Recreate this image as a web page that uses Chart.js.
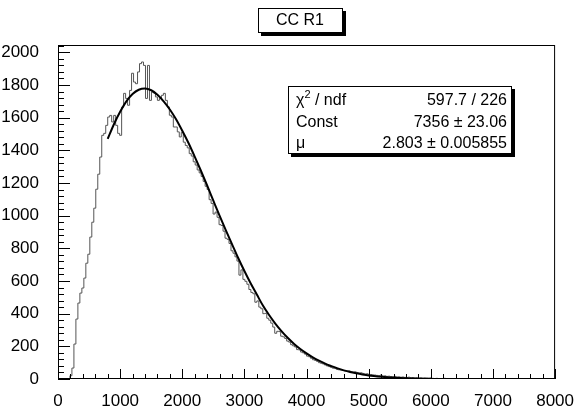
<!DOCTYPE html>
<html>
<head>
<meta charset="utf-8">
<script src="https://cdn.jsdelivr.net/npm/chart.js@4.4.1/dist/chart.umd.min.js"></script>
<style>
  html, body { margin: 0; padding: 0; background: #fff; }
  #wrap { width: 578px; height: 408px; }
</style>
</head>
<body>
<div id="wrap"><canvas id="grafico" width="578" height="408"></canvas></div>
<script>
// histogram: 250 bins of width 32 between 0 and 8000
const titulo = 'CC R1';
const binWidth = 32;
const contagens = [
    0, 0, 0, 0, 0, 0, 0, 20, 67, 214,
    367, 465, 526, 557, 618, 709, 764, 869, 960, 1046,
    1162, 1254, 1359, 1492, 1504, 1553, 1604, 1614, 1574, 1614,
    1553, 1504, 1492, 1665, 1749, 1718, 1676, 1767, 1872, 1818,
    1808, 1880, 1931, 1941, 1920, 1718, 1920, 1706, 1757, 1751,
    1727, 1706, 1718, 1737, 1749, 1706, 1666, 1615, 1604, 1543,
    1543, 1513, 1482, 1510, 1450, 1430, 1415, 1380, 1365, 1330,
    1310, 1280, 1262, 1240, 1210, 1180, 1160, 1098, 1075, 1010,
    1022, 990, 945, 940, 905, 862, 855, 830, 785, 770,
    748, 722, 636, 668, 610, 598, 580, 548, 530, 522,
    470, 478, 440, 430, 400, 402, 372, 360, 342, 318,
    280, 292, 290, 262, 258, 248, 232, 226, 210, 203,
    196, 180, 178, 165, 160, 152, 140, 136, 127, 118,
    114, 108, 100, 96, 92, 86, 80, 76, 71, 66,
    64, 58, 56, 55, 52, 50, 48, 50, 45, 42,
    44, 40, 36, 38, 34, 30, 32, 28, 27, 25,
    24, 22, 20, 24, 18, 19, 16, 17, 15, 14,
    16, 12, 13, 11, 12, 10, 9, 11, 8, 9,
    7, 8, 6, 7, 5, 6, 5, 4, 6, 4,
    3, 4, 3, 3, 2, 4, 2, 3, 2, 1,
    2, 2, 1, 2, 1, 1, 2, 1, 0, 1,
    1, 1, 0, 1, 0, 1, 1, 0, 0, 1,
    0, 0, 1, 0, 0, 0, 1, 0, 0, 0,
    0, 0, 1, 0, 0, 0, 0, 1, 0, 0,
    0, 0, 0, 0, 1, 0, 0, 0, 0, 0
];

// fit curve
const ajusteX = [800, 900, 1000, 1100, 1200, 1300, 1400, 1500, 1600, 1700,
    1800, 1900, 2000, 2100, 2200, 2300, 2400, 2500, 2600, 2700,
    2800, 2900, 3000, 3100, 3200, 3300, 3400, 3500, 3600, 3700,
    3800, 3900, 4000, 4100, 4200, 4300, 4400, 4500, 4600, 4700,
    4800, 4900, 5000, 5200, 5400, 5600, 5800, 6000];
const ajusteY = [1470, 1560, 1636, 1700, 1745, 1771, 1778, 1768, 1740, 1700,
    1650, 1590, 1520, 1445, 1362, 1275, 1185, 1092, 1000, 912,
    826, 741, 661, 586, 517, 448, 390, 338, 292, 251,
    215, 184, 157, 133, 112, 94, 79, 65, 53, 43,
    35, 28, 22, 14, 8, 4, 2, 1];

// stats box
const statsNomes = ['χ2 / ndf', 'Const', 'μ'];
const statsValores = ['597.7 / 226', '7356 ± 23.06', '2.803 ± 0.005855'];

const fonte = "'Liberation Sans', Arial, Helvetica, sans-serif";

document.addEventListener('DOMContentLoaded', function () {
    const pontosHist = contagens.map((v, i) => ({ x: i * binWidth, y: v }));
    pontosHist.push({ x: contagens.length * binWidth, y: contagens[contagens.length - 1] });
    const pontosAjuste = ajusteX.map((x, i) => ({ x: x, y: ajusteY[i] }));

    const caixa = (ctx, x, y, w, h) => {
        ctx.fillStyle = '#000';
        ctx.fillRect(x + 3, y + 3, w, h);
        ctx.fillStyle = '#fff';
        ctx.fillRect(x, y, w, h);
        ctx.strokeStyle = '#000';
        ctx.lineWidth = 1;
        ctx.strokeRect(x + 0.5, y + 0.5, w - 1, h - 1);
    };

    const moldura = {
        id: 'moldura',
        afterDraw(chart) {
            const ctx = chart.ctx;
            const a = chart.chartArea;
            const sx = chart.scales.x, sy = chart.scales.y;
            ctx.save();
            ctx.strokeStyle = '#000';
            ctx.lineWidth = 1;
            ctx.strokeRect(a.left + 0.5, a.top + 0.5, a.right - a.left - 1, a.bottom - a.top - 1);
            ctx.beginPath();
            for (let v = 0; v <= 8000; v += 200) {
                const px = Math.round(sx.getPixelForValue(v)) + 0.5;
                const len = v % 1000 === 0 ? 10 : 5;
                ctx.moveTo(px, a.bottom);
                ctx.lineTo(px, a.bottom - len);
            }
            for (let v = 0; v <= 2040; v += 40) {
                const py = Math.round(sy.getPixelForValue(v)) + 0.5;
                const len = v % 200 === 0 ? 12 : 6;
                ctx.moveTo(a.left, py);
                ctx.lineTo(a.left + len, py);
            }
            ctx.stroke();

            // title
            caixa(ctx, 258, 8, 85, 25);
            ctx.fillStyle = '#000';
            ctx.font = '16px ' + fonte;
            ctx.textAlign = 'center';
            ctx.textBaseline = 'middle';
            ctx.fillText(titulo, 300, 21);

            // stats
            caixa(ctx, 288, 86, 224, 68);
            ctx.fillStyle = '#000';
            ctx.textBaseline = 'alphabetic';
            const linhas = [105, 127, 148];
            statsNomes.forEach((nome, i) => {
                ctx.font = '16px ' + fonte;
                ctx.textAlign = 'left';
                if (nome.startsWith('χ2')) {
                    ctx.fillText('χ', 296, linhas[i]);
                    const w = ctx.measureText('χ').width;
                    ctx.font = '11px ' + fonte;
                    ctx.fillText('2', 296 + w, linhas[i] - 7);
                    const w2 = ctx.measureText('2').width;
                    ctx.font = '16px ' + fonte;
                    ctx.fillText(nome.slice(2), 296 + w + w2, linhas[i]);
                } else {
                    ctx.fillText(nome, 296, linhas[i]);
                }
                ctx.textAlign = 'right';
                ctx.fillText(statsValores[i], 507, linhas[i]);
            });
            ctx.restore();
        }
    };

    new Chart(document.getElementById('grafico').getContext('2d'), {
        type: 'scatter',
        data: {
            datasets: [{
                label: 'fit',
                data: pontosAjuste,
                showLine: true,
                borderColor: '#000',
                borderWidth: 2,
                pointRadius: 0,
                cubicInterpolationMode: 'monotone'
            }, {
                label: titulo,
                data: pontosHist,
                showLine: true,
                stepped: 'after',
                borderColor: '#555',
                borderWidth: 1,
                pointRadius: 0
            }]
        },
        options: {
            responsive: false,
            animation: false,
            layout: { padding: { top: 45, right: 17, left: 0, bottom: 0 } },
            plugins: { legend: { display: false }, tooltip: { enabled: false } },
            scales: {
                x: {
                    type: 'linear',
                    min: 0,
                    max: 8000,
                    grid: { display: false },
                    border: { display: false },
                    ticks: { stepSize: 1000, color: '#000', padding: 4, maxRotation: 0,
                        font: { family: fonte, size: 17 }, callback: (v) => String(v) },
                    afterFit: (s) => { s.height = 29; }
                },
                y: {
                    min: 0,
                    max: 2045,
                    grid: { display: false },
                    border: { display: false },
                    ticks: { stepSize: 200, includeBounds: false, color: '#000', padding: 11,
                        font: { family: fonte, size: 17 }, callback: (v) => String(v) },
                    afterFit: (s) => { s.width = 58; }
                }
            }
        },
        plugins: [moldura]
    });
});
</script>
</body>
</html>
